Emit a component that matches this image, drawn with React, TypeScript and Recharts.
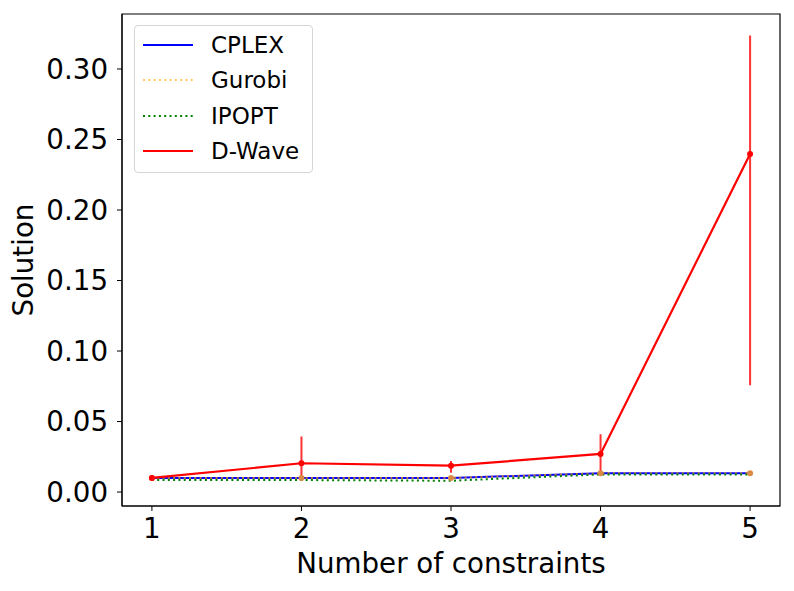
import React from 'react';
import { LineChart, Line, XAxis, YAxis, ErrorBar, ReferenceArea } from 'recharts';

const constraints = [1, 2, 3, 4, 5];
const cplex = [0.01, 0.01, 0.01, 0.0133, 0.0133];
const gurobi = [0.01, 0.01, 0.01, 0.0133, 0.0133];
const ipopt = [0.0085, 0.0085, 0.008, 0.0125, 0.0125];
const dwave = [0.01, 0.0204, 0.0187, 0.027, 0.2397];
// [below, above]
const dwaveErr = [
  [0, 0],
  [0.0105, 0.019],
  [0.005, 0.0033],
  [0.015, 0.014],
  [0.164, 0.084],
];
const yTicks = [0, 0.05, 0.1, 0.15, 0.2, 0.25, 0.3];

const FONT = '"DejaVu Sans", sans-serif';
const X_DOMAIN: [number, number] = [0.8, 5.2];
const Y_DOMAIN: [number, number] = [-0.0099, 0.339];

const data = constraints.map((c, i) => ({
  x: c,
  cplex: cplex[i],
  gurobi: gurobi[i],
  ipopt: ipopt[i],
  dwave: dwave[i],
  dwaveErr: dwaveErr[i],
}));

const legendItems = [
  { name: 'CPLEX', color: '#0000ff', dash: undefined as string | undefined, opacity: 1 },
  { name: 'Gurobi', color: '#ffa500', dash: '2 3.3', opacity: 0.6 },
  { name: 'IPOPT', color: '#008000', dash: '2 3.3', opacity: 1 },
  { name: 'D-Wave', color: '#ff0000', dash: undefined, opacity: 1 },
];

function LegendBox() {
  return (
    <div
      style={{
        position: 'absolute',
        left: 134,
        top: 25,
        width: 179,
        height: 148,
        boxSizing: 'border-box',
        border: '1px solid #d6d6d6',
        borderRadius: 4,
        background: 'rgba(255,255,255,0.8)',
        padding: '1px 0 0 7px',
        fontFamily: FONT,
        fontSize: 23,
      }}
    >
      {legendItems.map((it) => (
        <div key={it.name} style={{ display: 'flex', alignItems: 'center', height: 35.5 }}>
          <svg width={52} height={10} style={{ flex: 'none' }}>
            <line
              x1={1}
              y1={5}
              x2={51}
              y2={5}
              stroke={it.color}
              strokeWidth={2}
              strokeDasharray={it.dash}
              strokeOpacity={it.opacity}
            />
          </svg>
          <span style={{ marginLeft: 17, color: '#000', whiteSpace: 'nowrap' }}>{it.name}</span>
        </div>
      ))}
    </div>
  );
}

export default function App() {
  return (
    <div style={{ position: 'relative', width: 794, height: 591, background: '#fff' }}>
      <style>{'body{margin:0}'}</style>
      <LineChart
        width={794}
        height={591}
        data={data}
        margin={{ top: 14, right: 14, left: 0, bottom: 0 }}
        style={{ fontFamily: FONT }}
      >
        <XAxis
          dataKey="x"
          type="number"
          domain={X_DOMAIN}
          ticks={constraints}
          allowDataOverflow
          height={85}
          stroke="#000"
          tickSize={5}
          tickMargin={7}
          tick={{ fill: '#000', fontSize: 27.7 }}
          label={{ value: 'Number of constraints', position: 'insideBottom', offset: 18, fill: '#000', fontSize: 27.7 }}
        />
        <YAxis
          type="number"
          domain={Y_DOMAIN}
          ticks={yTicks}
          allowDataOverflow
          width={122}
          stroke="#000"
          tickSize={5}
          tickMargin={9}
          tickFormatter={(v: number) => v.toFixed(2)}
          tick={{ fill: '#000', fontSize: 27.7 }}
          label={{ value: 'Solution', angle: -90, position: 'insideLeft', offset: 23, fill: '#000', fontSize: 27.7, textAnchor: 'middle' }}
        />
        <ReferenceArea
          x1={X_DOMAIN[0]}
          x2={X_DOMAIN[1]}
          y1={Y_DOMAIN[0]}
          y2={Y_DOMAIN[1]}
          fill="none"
          stroke="#000"
          strokeWidth={1.2}
          ifOverflow="visible"
        />
        <Line dataKey="cplex" stroke="#0000ff" strokeWidth={2} dot={false} isAnimationActive={false} />
        <Line
          dataKey="gurobi"
          stroke="#ffa500"
          strokeOpacity={0.7}
          strokeWidth={2}
          strokeDasharray="2 3.3"
          dot={{ r: 3, fill: '#d98a45', stroke: 'none' }}
          isAnimationActive={false}
        />
        <Line dataKey="ipopt" stroke="#008000" strokeWidth={2} strokeDasharray="2 3.3" dot={false} isAnimationActive={false} />
        <Line
          dataKey="dwave"
          stroke="#ff0000"
          strokeWidth={2.2}
          dot={{ r: 3, fill: '#ff0000', stroke: 'none' }}
          isAnimationActive={false}
        >
          <ErrorBar dataKey="dwaveErr" width={0} stroke="#ff0000" strokeOpacity={0.8} strokeWidth={2} direction="y" />
        </Line>
      </LineChart>
      <LegendBox />
    </div>
  );
}
